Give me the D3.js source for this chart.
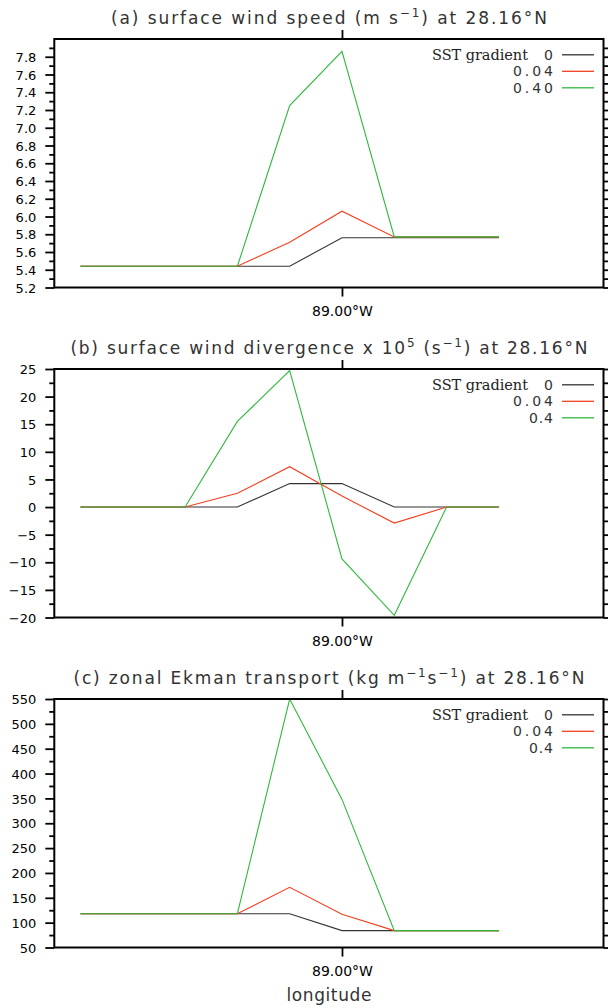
<!DOCTYPE html>
<html>
<head>
<meta charset="utf-8">
<script src="https://cdn.jsdelivr.net/npm/d3@7/dist/d3.min.js"></script>
<style>
  html, body { margin: 0; padding: 0; background: #fff; }
  svg { display: block; }
  .title { font-family: "DejaVu Sans", sans-serif; font-size: 17px; fill: #333; }
  .tick-label { font-family: "DejaVu Sans", sans-serif; font-size: 13px; fill: #000; }
  .x-label { font-family: "DejaVu Sans", sans-serif; font-size: 14px; fill: #000; }
  .legend-head { font-family: "DejaVu Serif", serif; font-size: 14.5px; fill: #222; }
  .legend-val { font-family: "DejaVu Sans", sans-serif; font-size: 14px; fill: #333; }
</style>
</head>
<body>
<div id="chart"></div>
<script>
// Longitudes of the model grid points along 28.16N (degrees east, i.e. negative = W)
const longitudes = [-89.20, -89.16, -89.12, -89.08, -89.04, -89.00, -88.96, -88.92, -88.88];
const lonDomain = [-89.22, -88.80];

// SST gradient cases, drawn in this order (green on top)
const cases = ["0", "0.04", "0.4"];
const caseColors = ["#333333", "#f2401f", "#2fb83e"];

// (a) surface wind speed, m/s
const speedGrad0 = [5.44, 5.44, 5.44, 5.44, 5.44, 5.76, 5.76, 5.76, 5.76];
const speedGrad004 = [5.44, 5.44, 5.44, 5.44, 5.71, 6.06, 5.77, 5.77, 5.77];
const speedGrad04 = [5.44, 5.44, 5.44, 5.44, 7.25, 7.86, 5.77, 5.77, 5.77];

// (b) surface wind divergence x 1e5, 1/s
const divGrad0 = [0, 0, 0, 0, 4.25, 4.25, 0, 0, 0];
const divGrad004 = [0, 0, 0, 2.5, 7.3, 2.0, -2.9, 0, 0];
const divGrad04 = [0, 0, 0, 15.5, 24.7, -9.4, -19.6, 0, 0];

// (c) zonal Ekman transport, kg/m/s
const ekmanGrad0 = [118, 118, 118, 118, 118, 84, 84, 84, 84];
const ekmanGrad004 = [118, 118, 118, 118, 171, 117, 84, 84, 84];
const ekmanGrad04 = [118, 118, 118, 118, 550, 348, 84, 84, 84];

// y ticks
const speedTicks = [5.2, 5.4, 5.6, 5.8, 6.0, 6.2, 6.4, 6.6, 6.8, 7.0, 7.2, 7.4, 7.6, 7.8];
const speedMinor = [5.3, 5.5, 5.7, 5.9, 6.1, 6.3, 6.5, 6.7, 6.9, 7.1, 7.3, 7.5, 7.7, 7.9];
const divTicks = [-20, -15, -10, -5, 0, 5, 10, 15, 20, 25];
const divMinor = [-17.5, -12.5, -7.5, -2.5, 2.5, 7.5, 12.5, 17.5, 22.5];
const ekmanTicks = [50, 100, 150, 200, 250, 300, 350, 400, 450, 500, 550];
const ekmanMinor = [75, 125, 175, 225, 275, 325, 375, 425, 475, 525];
const xTicks = [-89.00];

const width = 608;
const height = 1008;
const left = 54.3;
const right = 603.5;
const panelHeight = 248.5;

const svg = d3.select("#chart").append("svg")
  .attr("width", width)
  .attr("height", height);

const x = d3.scaleLinear().domain(lonDomain).range([left, right]);

const panels = [
  {
    top: 39,
    domain: [5.2, 8.0],
    ticks: speedTicks,
    minor: speedMinor,
    format: d3.format(".1f"),
    series: [speedGrad0, speedGrad004, speedGrad04],
    legend: ["0", "0.04", "0.40"],
    title: [["(a) surface wind speed (m s"], ["\u22121", "sup"], [") at 28.16\u00b0N"]],
    titleWidth: 436,
  },
  {
    top: 369,
    domain: [-20, 25],
    ticks: divTicks,
    minor: divMinor,
    format: d3.format("d"),
    series: [divGrad0, divGrad004, divGrad04],
    legend: cases,
    title: [["(b) surface wind divergence x 10"], ["5", "sup"], [" (s"], ["\u22121", "sup"], [") at 28.16\u00b0N"]],
    titleWidth: 517,
  },
  {
    top: 699,
    domain: [50, 550],
    ticks: ekmanTicks,
    minor: ekmanMinor,
    format: d3.format("d"),
    series: [ekmanGrad0, ekmanGrad004, ekmanGrad04],
    legend: cases,
    title: [["(c) zonal Ekman transport (kg m"], ["\u22121", "sup"], ["s"], ["\u22121", "sup"], [") at 28.16\u00b0N"]],
    titleWidth: 511,
  },
];

function styleAxis(g) {
  g.select(".domain").remove();
  g.selectAll(".tick line").attr("stroke", "#000").attr("stroke-width", 1.8);
}

panels.forEach((p) => {
  const bottom = p.top + panelHeight;
  const y = d3.scaleLinear().domain(p.domain).range([bottom, p.top]);
  const g = svg.append("g");

  // title with superscripts
  const title = g.append("text")
    .attr("class", "title")
    .attr("x", (left + right) / 2)
    .attr("y", p.top - 15)
    .attr("text-anchor", "middle")
    .attr("textLength", p.titleWidth)
    .attr("lengthAdjust", "spacing");
  let raised = false;
  p.title.forEach(([txt, kind]) => {
    const span = title.append("tspan").text(txt);
    if (kind === "sup" && !raised) {
      span.attr("dy", -7).attr("font-size", "12px");
      raised = true;
    } else if (kind !== "sup" && raised) {
      span.attr("dy", 7);
      raised = false;
    } else if (kind === "sup") {
      span.attr("font-size", "12px");
    }
  });

  // left axis: major ticks with labels, then minor ticks
  g.append("g")
    .attr("transform", `translate(${left},0)`)
    .call(d3.axisLeft(y).tickValues(p.ticks).tickFormat(p.format).tickSize(9).tickPadding(9))
    .call(styleAxis)
    .call((a) => a.selectAll("text").attr("class", "tick-label").attr("font-size", null)
      .attr("font-family", null).attr("dy", "0.36em"));
  g.append("g")
    .attr("transform", `translate(${left},0)`)
    .call(d3.axisLeft(y).tickValues(p.minor).tickFormat("").tickSize(5))
    .call(styleAxis);

  // right axis, ticks only
  g.append("g")
    .attr("transform", `translate(${right},0)`)
    .call(d3.axisRight(y).tickValues(p.ticks).tickFormat("").tickSize(9))
    .call(styleAxis);
  g.append("g")
    .attr("transform", `translate(${right},0)`)
    .call(d3.axisRight(y).tickValues(p.minor).tickFormat("").tickSize(5))
    .call(styleAxis);

  // bottom / top longitude ticks
  g.append("g")
    .attr("transform", `translate(0,${bottom})`)
    .call(d3.axisBottom(x).tickValues(xTicks).tickSize(9).tickPadding(10)
      .tickFormat((d) => `${Math.abs(d).toFixed(2)}\u00b0W`))
    .call(styleAxis)
    .call((a) => a.selectAll("text").attr("class", "x-label").attr("font-size", null)
      .attr("font-family", null));
  g.append("g")
    .attr("transform", `translate(0,${p.top})`)
    .call(d3.axisTop(x).tickValues(xTicks).tickSize(9).tickFormat(""))
    .call(styleAxis);

  // data lines
  const line = d3.line()
    .x((d, i) => x(longitudes[i]))
    .y((d) => y(d));
  p.series.forEach((values, i) => {
    g.append("path")
      .datum(values)
      .attr("fill", "none")
      .attr("stroke", caseColors[i])
      .attr("stroke-width", 1.1)
      .attr("d", line);
  });

  // frame
  g.append("rect")
    .attr("x", left)
    .attr("y", p.top)
    .attr("width", right - left)
    .attr("height", panelHeight)
    .attr("fill", "none")
    .attr("stroke", "#000")
    .attr("stroke-width", 2);

  // legend in the upper right corner
  const legendRows = [15.8, 32.3, 48.8];
  g.append("text")
    .attr("class", "legend-head")
    .attr("x", 432)
    .attr("y", p.top + legendRows[0] + 5)
    .attr("textLength", 96)
    .attr("lengthAdjust", "spacing")
    .text("SST gradient");
  p.legend.forEach((label, i) => {
    const ly = p.top + legendRows[i];
    const txt = g.append("text")
      .attr("class", "legend-val")
      .attr("x", 553)
      .attr("y", ly + 5)
      .attr("text-anchor", "end")
      .text(label);
    if (label.length > 1) {
      txt.attr("textLength", label.length === 4 ? 40 : 24).attr("lengthAdjust", "spacing");
    }
    g.append("line")
      .attr("x1", 562)
      .attr("x2", 594)
      .attr("y1", ly)
      .attr("y2", ly)
      .attr("stroke", caseColors[i])
      .attr("stroke-width", 1.3);
  });
});

svg.append("text")
  .attr("class", "title")
  .attr("x", (left + right) / 2)
  .attr("y", 1001)
  .attr("text-anchor", "middle")
  .attr("textLength", 85)
  .attr("lengthAdjust", "spacing")
  .text("longitude");
</script>
</body>
</html>
